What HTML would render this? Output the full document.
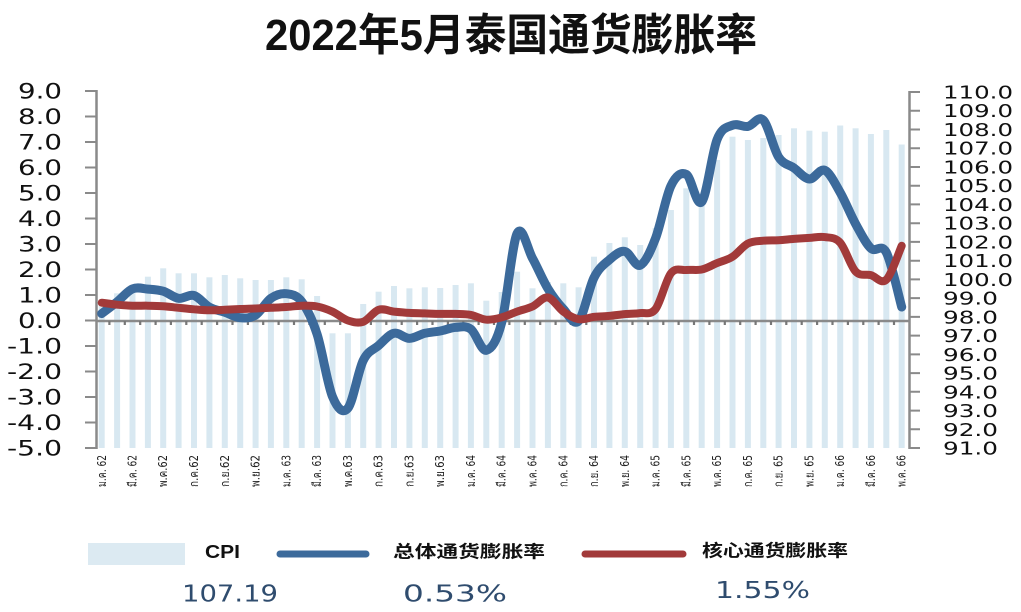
<!DOCTYPE html>
<html><head><meta charset="utf-8"><style>
html,body{margin:0;padding:0;background:#fff;width:1021px;height:612px;overflow:hidden}
svg{display:block}
.yl{font-family:"DejaVu Sans","Liberation Sans",sans-serif;font-size:21.5px;fill:#111}
.yr{font-family:"DejaVu Sans","Liberation Sans",sans-serif;font-size:18px;fill:#111}
.xl{font-family:"DejaVu Sans","Liberation Sans",sans-serif;font-size:12px;fill:#222}
.cj{font-family:"Liberation Sans","Noto Sans CJK SC",sans-serif;font-weight:bold;fill:#111}
.val{font-family:"DejaVu Sans","Liberation Sans",sans-serif;font-size:23px;fill:#2f4c6e}
</style></head><body>
<svg id="chart" width="1021" height="612" viewBox="0 0 1021 612" xmlns="http://www.w3.org/2000/svg">
<rect width="1021" height="612" fill="#fff"/>
<text class="cj" x="265" y="50" font-size="44" textLength="492" lengthAdjust="spacingAndGlyphs">2022年5月泰国通货膨胀率</text>

<!-- bars -->
<g fill="#d8e8f1">
<rect x="98.7" y="305" width="6" height="143"/>
<rect x="114.1" y="293.3" width="6" height="154.7"/>
<rect x="129.5" y="285" width="6" height="163"/>
<rect x="144.9" y="276.7" width="6" height="171.3"/>
<rect x="160.2" y="268.3" width="6" height="179.7"/>
<rect x="175.6" y="273.3" width="6" height="174.7"/>
<rect x="191" y="273.3" width="6" height="174.7"/>
<rect x="206.4" y="277.3" width="6" height="170.7"/>
<rect x="221.8" y="275" width="6" height="173"/>
<rect x="237.2" y="278.3" width="6" height="169.7"/>
<rect x="252.6" y="280" width="6" height="168"/>
<rect x="267.9" y="280" width="6" height="168"/>
<rect x="283.3" y="277.3" width="6" height="170.7"/>
<rect x="298.7" y="279.3" width="6" height="168.7"/>
<rect x="314.1" y="296" width="6" height="152"/>
<rect x="329.5" y="333.3" width="6" height="114.7"/>
<rect x="344.9" y="333.3" width="6" height="114.7"/>
<rect x="360.2" y="304" width="6" height="144"/>
<rect x="375.6" y="291.7" width="6" height="156.3"/>
<rect x="391" y="286" width="6" height="162"/>
<rect x="406.4" y="288.3" width="6" height="159.7"/>
<rect x="421.8" y="287.3" width="6" height="160.7"/>
<rect x="437.2" y="288" width="6" height="160"/>
<rect x="452.6" y="285" width="6" height="163"/>
<rect x="467.9" y="283.3" width="6" height="164.7"/>
<rect x="483.3" y="300.7" width="6" height="147.3"/>
<rect x="498.7" y="292" width="6" height="156"/>
<rect x="514.1" y="271.7" width="6" height="176.3"/>
<rect x="529.5" y="288.3" width="6" height="159.7"/>
<rect x="544.9" y="282" width="6" height="166"/>
<rect x="560.3" y="283.3" width="6" height="164.7"/>
<rect x="575.6" y="287.3" width="6" height="160.7"/>
<rect x="591" y="256.7" width="6" height="191.3"/>
<rect x="606.4" y="243" width="6" height="205"/>
<rect x="621.8" y="237.3" width="6" height="210.7"/>
<rect x="637.2" y="245" width="6" height="203"/>
<rect x="652.6" y="228" width="6" height="220"/>
<rect x="667.9" y="210" width="6" height="238"/>
<rect x="683.3" y="188.3" width="6" height="259.7"/>
<rect x="698.7" y="203" width="6" height="245"/>
<rect x="714.1" y="160" width="6" height="288"/>
<rect x="729.5" y="136.7" width="6" height="311.3"/>
<rect x="744.9" y="140" width="6" height="308"/>
<rect x="760.3" y="138" width="6" height="310"/>
<rect x="775.6" y="135" width="6" height="313"/>
<rect x="791" y="128.3" width="6" height="319.7"/>
<rect x="806.4" y="130.7" width="6" height="317.3"/>
<rect x="821.8" y="131.7" width="6" height="316.3"/>
<rect x="837.2" y="125.5" width="6" height="322.5"/>
<rect x="852.6" y="128.3" width="6" height="319.7"/>
<rect x="867.9" y="134" width="6" height="314"/>
<rect x="883.3" y="130" width="6" height="318"/>
<rect x="898.7" y="144.5" width="6" height="303.5"/>
</g>

<!-- axes -->
<g stroke="#8a8a8a" stroke-width="2.5" fill="none">
<line x1="96.5" y1="90" x2="96.5" y2="449"/>
<line x1="909.5" y1="91" x2="909.5" y2="449"/>
<line x1="96" y1="321" x2="909" y2="321"/>
</g>
<g stroke="#8a8a8a" stroke-width="2">
<path d="M85 91H97M85 116.5H97M85 142H97M85 167.5H97M85 193H97M85 218.5H97M85 244H97M85 269.5H97M85 295H97M85 320.5H97M85 346H97M85 371.5H97M85 397H97M85 422.5H97M85 448H97"/>
<path d="M909 92H920M909 110.7H920M909 129.5H920M909 148.2H920M909 167H920M909 185.7H920M909 204.4H920M909 223.2H920M909 241.9H920M909 260.7H920M909 279.4H920M909 298.1H920M909 316.9H920M909 335.6H920M909 354.4H920M909 373.1H920M909 391.8H920M909 410.6H920M909 429.3H920M909 448H920"/>
</g>
<g stroke="#777" stroke-width="2.2">
<path d="M109.4 321v4M124.8 321v4M140.2 321v4M155.6 321v4M170.9 321v4M186.3 321v4M201.7 321v4M217.1 321v4M232.5 321v4M247.9 321v4M263.2 321v4M278.6 321v4M294 321v4M309.4 321v4M324.8 321v4M340.2 321v4M355.6 321v4M370.9 321v4M386.3 321v4M401.7 321v4M417.1 321v4M432.5 321v4M447.9 321v4M463.3 321v4M478.6 321v4M494 321v4M509.4 321v4M524.8 321v4M540.2 321v4M555.6 321v4M570.9 321v4M586.3 321v4M601.7 321v4M617.1 321v4M632.5 321v4M647.9 321v4M663.3 321v4M678.6 321v4M694 321v4M709.4 321v4M724.8 321v4M740.2 321v4M755.6 321v4M771 321v4M786.3 321v4M801.7 321v4M817.1 321v4M832.5 321v4M847.9 321v4M863.3 321v4M878.6 321v4M894 321v4"/>
</g>

<!-- left labels -->
<g class="yl" text-anchor="start">
<text x="18" y="98.5" textLength="44" lengthAdjust="spacingAndGlyphs">9.0</text>
<text x="18" y="124" textLength="44" lengthAdjust="spacingAndGlyphs">8.0</text>
<text x="18" y="149.5" textLength="44" lengthAdjust="spacingAndGlyphs">7.0</text>
<text x="18" y="175" textLength="44" lengthAdjust="spacingAndGlyphs">6.0</text>
<text x="18" y="200.5" textLength="44" lengthAdjust="spacingAndGlyphs">5.0</text>
<text x="18" y="226" textLength="44" lengthAdjust="spacingAndGlyphs">4.0</text>
<text x="18" y="251.5" textLength="44" lengthAdjust="spacingAndGlyphs">3.0</text>
<text x="18" y="277" textLength="44" lengthAdjust="spacingAndGlyphs">2.0</text>
<text x="18" y="302.5" textLength="44" lengthAdjust="spacingAndGlyphs">1.0</text>
<text x="18" y="328" textLength="44" lengthAdjust="spacingAndGlyphs">0.0</text>
<text x="7" y="353.5" textLength="55" lengthAdjust="spacingAndGlyphs">-1.0</text>
<text x="7" y="379" textLength="55" lengthAdjust="spacingAndGlyphs">-2.0</text>
<text x="7" y="404.5" textLength="55" lengthAdjust="spacingAndGlyphs">-3.0</text>
<text x="7" y="430" textLength="55" lengthAdjust="spacingAndGlyphs">-4.0</text>
<text x="7" y="455.5" textLength="55" lengthAdjust="spacingAndGlyphs">-5.0</text>
</g>
<!-- right labels -->
<g class="yr">
<text x="943" y="98.5" textLength="70" lengthAdjust="spacingAndGlyphs">110.0</text>
<text x="943" y="117.2" textLength="70" lengthAdjust="spacingAndGlyphs">109.0</text>
<text x="943" y="136" textLength="70" lengthAdjust="spacingAndGlyphs">108.0</text>
<text x="943" y="154.7" textLength="70" lengthAdjust="spacingAndGlyphs">107.0</text>
<text x="943" y="173.5" textLength="70" lengthAdjust="spacingAndGlyphs">106.0</text>
<text x="943" y="192.2" textLength="70" lengthAdjust="spacingAndGlyphs">105.0</text>
<text x="943" y="210.9" textLength="70" lengthAdjust="spacingAndGlyphs">104.0</text>
<text x="943" y="229.7" textLength="70" lengthAdjust="spacingAndGlyphs">103.0</text>
<text x="943" y="248.4" textLength="70" lengthAdjust="spacingAndGlyphs">102.0</text>
<text x="943" y="267.2" textLength="70" lengthAdjust="spacingAndGlyphs">101.0</text>
<text x="943" y="285.9" textLength="70" lengthAdjust="spacingAndGlyphs">100.0</text>
<text x="943" y="304.6" textLength="55" lengthAdjust="spacingAndGlyphs">99.0</text>
<text x="943" y="323.4" textLength="55" lengthAdjust="spacingAndGlyphs">98.0</text>
<text x="943" y="342.1" textLength="55" lengthAdjust="spacingAndGlyphs">97.0</text>
<text x="943" y="360.9" textLength="55" lengthAdjust="spacingAndGlyphs">96.0</text>
<text x="943" y="379.6" textLength="55" lengthAdjust="spacingAndGlyphs">95.0</text>
<text x="943" y="398.3" textLength="55" lengthAdjust="spacingAndGlyphs">94.0</text>
<text x="943" y="417.1" textLength="55" lengthAdjust="spacingAndGlyphs">93.0</text>
<text x="943" y="435.8" textLength="55" lengthAdjust="spacingAndGlyphs">92.0</text>
<text x="943" y="454.5" textLength="55" lengthAdjust="spacingAndGlyphs">91.0</text>
</g>

<!-- x labels -->
<g class="xl" text-anchor="end">
<text transform="translate(106,455) rotate(-90)" textLength="32" lengthAdjust="spacingAndGlyphs">ม.ค. 62</text>
<text transform="translate(136.5,455) rotate(-90)" textLength="32" lengthAdjust="spacingAndGlyphs">มี.ค. 62</text>
<text transform="translate(167.2,455) rotate(-90)" textLength="32" lengthAdjust="spacingAndGlyphs">พ.ค.62</text>
<text transform="translate(198,455) rotate(-90)" textLength="32" lengthAdjust="spacingAndGlyphs">ก.ค.62</text>
<text transform="translate(228.8,455) rotate(-90)" textLength="32" lengthAdjust="spacingAndGlyphs">ก.ย.62</text>
<text transform="translate(259.6,455) rotate(-90)" textLength="32" lengthAdjust="spacingAndGlyphs">พ.ย.62</text>
<text transform="translate(290.3,455) rotate(-90)" textLength="32" lengthAdjust="spacingAndGlyphs">ม.ค. 63</text>
<text transform="translate(321.1,455) rotate(-90)" textLength="32" lengthAdjust="spacingAndGlyphs">มี.ค. 63</text>
<text transform="translate(351.9,455) rotate(-90)" textLength="32" lengthAdjust="spacingAndGlyphs">พ.ค.63</text>
<text transform="translate(382.6,455) rotate(-90)" textLength="32" lengthAdjust="spacingAndGlyphs">ก.ค.63</text>
<text transform="translate(413.4,455) rotate(-90)" textLength="32" lengthAdjust="spacingAndGlyphs">ก.ย.63</text>
<text transform="translate(444.2,455) rotate(-90)" textLength="32" lengthAdjust="spacingAndGlyphs">พ.ย.63</text>
<text transform="translate(474.9,455) rotate(-90)" textLength="32" lengthAdjust="spacingAndGlyphs">ม.ค. 64</text>
<text transform="translate(505.7,455) rotate(-90)" textLength="32" lengthAdjust="spacingAndGlyphs">มี.ค. 64</text>
<text transform="translate(536.5,455) rotate(-90)" textLength="32" lengthAdjust="spacingAndGlyphs">พ.ค. 64</text>
<text transform="translate(567.3,455) rotate(-90)" textLength="32" lengthAdjust="spacingAndGlyphs">ก.ค. 64</text>
<text transform="translate(598,455) rotate(-90)" textLength="32" lengthAdjust="spacingAndGlyphs">ก.ย. 64</text>
<text transform="translate(628.8,455) rotate(-90)" textLength="32" lengthAdjust="spacingAndGlyphs">พ.ย. 64</text>
<text transform="translate(659.6,455) rotate(-90)" textLength="32" lengthAdjust="spacingAndGlyphs">ม.ค. 65</text>
<text transform="translate(690.3,455) rotate(-90)" textLength="32" lengthAdjust="spacingAndGlyphs">มี.ค. 65</text>
<text transform="translate(721.1,455) rotate(-90)" textLength="32" lengthAdjust="spacingAndGlyphs">พ.ค. 65</text>
<text transform="translate(751.9,455) rotate(-90)" textLength="32" lengthAdjust="spacingAndGlyphs">ก.ค. 65</text>
<text transform="translate(782.6,455) rotate(-90)" textLength="32" lengthAdjust="spacingAndGlyphs">ก.ย. 65</text>
<text transform="translate(813.4,455) rotate(-90)" textLength="32" lengthAdjust="spacingAndGlyphs">พ.ย. 65</text>
<text transform="translate(844.2,455) rotate(-90)" textLength="32" lengthAdjust="spacingAndGlyphs">ม.ค. 66</text>
<text transform="translate(874.9,455) rotate(-90)" textLength="32" lengthAdjust="spacingAndGlyphs">มี.ค. 66</text>
<text transform="translate(905.7,455) rotate(-90)" textLength="32" lengthAdjust="spacingAndGlyphs">พ.ค. 66</text>
</g>

<!-- series -->
<polyline class="ser" fill="none" stroke="#3c6a9b" stroke-width="9" stroke-linejoin="round" stroke-linecap="round" points="101.7,313.6 117.1,301.9 132.5,288.9 147.9,289.1 163.2,291.2 178.6,298.3 194,295.5 209.4,307.2 224.8,312.3 240.2,317.7 255.6,315.1 270.9,298.3 286.3,293.7 301.7,301.6 317.1,334.3 332.5,396.7 347.9,408.2 363.2,360.5 378.6,345.5 394,333.3 409.4,338.4 424.8,333.3 440.2,331 455.6,327.4 470.9,329.2 486.3,350.3 501.7,322.5 517.1,233.5 532.5,258.3 547.9,288.6 563.3,309 578.6,321 594,277.7 609.4,259.8 624.8,251.4 640.2,265.2 655.6,238.1 670.9,185.9 686.3,174.4 701.7,201.9 717.1,139.5 732.5,125.2 747.9,126.4 763.3,120.1 778.6,157 794,168 809.4,179 824.8,170.3 840.2,192.5 855.6,223.9 870.9,248.3 886.3,252.4 901.7,307"/>
<polyline class="ser" fill="none" stroke="#a23a3a" stroke-width="8" stroke-linejoin="round" stroke-linecap="round" points="101.7,302.7 117.1,304.7 132.5,305.7 147.9,305.7 163.2,306.2 178.6,307.8 194,309.3 209.4,310.3 224.8,309.8 240.2,309 255.6,308.5 270.9,307.8 286.3,307 301.7,305.7 317.1,306.5 332.5,311.6 347.9,320.5 363.2,321.8 378.6,309.8 394,311.6 409.4,312.9 424.8,313.4 440.2,313.9 455.6,313.9 470.9,314.9 486.3,319.7 501.7,317.4 517.1,311.6 532.5,306.5 547.9,297.5 563.3,311.6 578.6,319.2 594,316.9 609.4,315.9 624.8,314.1 640.2,313.1 655.6,309 670.9,273.3 686.3,270 701.7,269.5 717.1,263.1 732.5,256.8 747.9,243.5 763.3,240.7 778.6,240.2 794,238.9 809.4,237.9 824.8,237.1 840.2,242.7 855.6,271.5 870.9,275.1 886.3,279.7 901.7,245.8"/>

<!-- legend -->
<rect x="88" y="543" width="97" height="22" fill="#dceaf2"/>
<text class="cj" x="205" y="558" font-size="18" textLength="35" lengthAdjust="spacingAndGlyphs">CPI</text>
<line x1="280" y1="554" x2="366" y2="554" stroke="#3c6a9b" stroke-width="7" stroke-linecap="round"/>
<text class="cj" x="393" y="557.5" font-size="17" textLength="152" lengthAdjust="spacingAndGlyphs">总体通货膨胀率</text>
<line x1="585" y1="554" x2="683" y2="554" stroke="#a23a3a" stroke-width="7" stroke-linecap="round"/>
<text class="cj" x="702" y="556.5" font-size="17" textLength="146" lengthAdjust="spacingAndGlyphs">核心通货膨胀率</text>
<text class="val" x="182" y="601.5" textLength="96" lengthAdjust="spacingAndGlyphs">107.19</text>
<text class="val" x="403" y="601.5" textLength="104" lengthAdjust="spacingAndGlyphs">0.53%</text>
<text class="val" x="715" y="598" textLength="95" lengthAdjust="spacingAndGlyphs">1.55%</text>
</svg>
<script>
(function(){
  var NS="http://www.w3.org/2000/svg";
  var lines=document.querySelectorAll("polyline.ser");
  for(var k=0;k<lines.length;k++){
    var pl=lines[k];
    var pts=pl.getAttribute("points").trim().split(/\s+/).map(function(s){var a=s.split(",");return [parseFloat(a[0]),parseFloat(a[1])];});
    var n=pts.length;
    var d="M"+pts[0][0]+" "+pts[0][1];
    for(var i=0;i<n-1;i++){
      var p0=pts[i>0?i-1:i],p1=pts[i],p2=pts[i+1],p3=pts[i+2<n?i+2:i+1];
      var c1x=p1[0]+(p2[0]-p0[0])/6,c1y=p1[1]+(p2[1]-p0[1])/6;
      var c2x=p2[0]-(p3[0]-p1[0])/6,c2y=p2[1]-(p3[1]-p1[1])/6;
      d+=" C"+c1x.toFixed(2)+" "+c1y.toFixed(2)+" "+c2x.toFixed(2)+" "+c2y.toFixed(2)+" "+p2[0]+" "+p2[1];
    }
    var path=document.createElementNS(NS,"path");
    path.setAttribute("d",d);
    path.setAttribute("fill","none");
    path.setAttribute("stroke",pl.getAttribute("stroke"));
    path.setAttribute("stroke-width",pl.getAttribute("stroke-width"));
    path.setAttribute("stroke-linejoin","round");
    path.setAttribute("stroke-linecap","round");
    pl.parentNode.replaceChild(path,pl);
  }
})();
</script>
</body></html>
